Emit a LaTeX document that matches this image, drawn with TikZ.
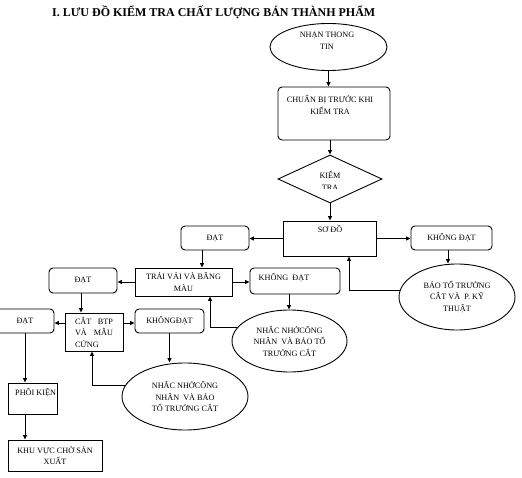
\documentclass[tikz,border=0pt]{standalone}
\usepackage{fontspec}
\setmainfont{Liberation Serif}
\usetikzlibrary{shapes.geometric,arrows.meta}
\begin{document}
\begin{tikzpicture}[x=1pt,y=-1pt,
  every node/.style={font=\fontsize{8.2}{11.5}\selectfont, inner sep=0pt, align=center},
  rbox/.style={draw, line width=0.9pt, rounded corners=4pt},
  sbox/.style={draw, line width=0.9pt},
  ell/.style={draw, ellipse, line width=0.9pt},
  dia/.style={draw, diamond, line width=0.9pt},
  arr/.style={line width=0.9pt, -{Triangle[length=4.5pt,width=4pt]}},
  ln/.style={line width=0.9pt}]
\useasboundingbox (0,0) rectangle (522,478);
\node[anchor=west, font=\fontsize{12}{14}\selectfont\bfseries] (title) at (52,12) {I. LƯU ĐỒ KIỂM TRA CHẤT LƯỢNG BÁN THÀNH PHẨM};
% shapes
\node[ell, minimum width=117pt, minimum height=47pt] (nhan) at (328.5,47) {};
\node (tnhan) at (327,41) {NHẠN THONG\\TIN};
\node[rbox, minimum width=112pt, minimum height=53pt] (chuan) at (334,113.5) {};
\node (tchuan) at (330,105) {CHUẨN BỊ TRƯỚC KHI\\KIỂM TRA};
\node[dia, minimum width=104pt, minimum height=48pt] (kt) at (330,179) {};
\node (tkt) at (330,175) {KIỂM};
\begin{scope}
\clip (300,182.5) rectangle (360,188.5);
\node (tkt2) at (330,188) {TRA};
\end{scope}
\node[sbox, minimum width=93pt, minimum height=35pt] (sodo) at (329.5,238.5) {};
\node (tsodo) at (330,229) {SƠ ĐỒ};
\node[rbox, minimum width=68pt, minimum height=24pt] (dat1) at (215,238) {ĐẠT};
\node[rbox, minimum width=81pt, minimum height=24pt] (kd1) at (451.5,238) {KHÔNG ĐẠT};
\node[ell, minimum width=116pt, minimum height=66pt] (bao) at (457,297) {BÁO TỔ TRƯỞNG\\CẮT VÀ\ \ P. KỸ\\THUẬT};
\node[sbox, minimum width=97pt, minimum height=28pt] (trai) at (183.5,282) {TRẢI VẢI VÀ BĂNG\\MÀU};
\node[rbox, minimum width=68pt, minimum height=25pt] (dat2) at (83,280.5) {ĐẠT};
\node[rbox, minimum width=90pt, minimum height=26pt] (kd2) at (295,281) {};
\node (tkd2) at (284,278) {KHÔNG\ \ ĐẠT};
\node[ell, minimum width=115pt, minimum height=62pt] (nn2) at (289.5,341) {NHẮC NHỞCÔNG\\NHÂN\ \ VÀ BÁO TỔ\\TRƯỞNG CẮT};
\node[sbox, minimum width=58pt, minimum height=38pt, align=left] (cat) at (94,332) {\makebox[38pt][l]{CẮT\hfill BTP}\\\makebox[38pt][l]{VÀ\hfill MẪU}\\CỨNG};
\node[rbox, minimum width=58pt, minimum height=24pt] (dat3) at (25,321) {ĐẠT};
\node[rbox, minimum width=69pt, minimum height=24pt] (kd3) at (169.5,321) {KHÔNGĐẠT};
\node[ell, minimum width=126pt, minimum height=67pt] (nn3) at (185,396.5) {NHẮC NHỞCÔNG\\NHÂN\ \ VÀ BÁO\\TỔ TRƯỞNG CẮT};
\node[sbox, minimum width=49pt, minimum height=31pt] (phoi) at (32.5,398.5) {};
\node[anchor=west] (tphoi) at (15,393) {PHÔI KIỆN};
\node[sbox, minimum width=94pt, minimum height=31pt] (khu) at (55,455.5) {KHU VỰC CHỜ SẢN\\XUẤT};
% connectors
\draw[arr] (nhan.south) -- (nhan.south |- chuan.north);
\draw[arr] ([xshift=-4pt]chuan.south) -- (kt.north);
\draw[arr] (kt.south) -- (kt.south |- sodo.north);
\draw[arr] (sodo.west) -- (sodo.west -| dat1.east);
\draw[arr] (sodo.east) -- (sodo.east -| kd1.west);
\draw[arr] ([xshift=-3.5pt]kd1.south) -- ([xshift=-3.5pt]kd1.south |- bao.north);
\draw[arr] (bao.173) -| ([xshift=19.5pt]sodo.south);
\draw[arr] ([xshift=-13pt]dat1.south) -- ([xshift=-13pt]dat1.south |- trai.north);
\draw[arr] (trai.west) -- (trai.west -| dat2.east);
\draw[arr] (trai.east) -- (trai.east -| kd2.west);
\draw[arr] ([xshift=-6pt]kd2.south) -- ([xshift=-6pt]kd2.south |- nn2.north);
\draw[arr] (nn2.166) -| ([xshift=26.5pt]trai.south);
\draw[arr] ([xshift=-2pt]dat2.south) -- ([xshift=-2pt]dat2.south |- cat.north);
\draw[arr] ([yshift=9pt]cat.west) -- ([yshift=9pt]cat.west -| dat3.east);
\draw[arr] ([yshift=9pt]cat.east) -- ([yshift=9pt]cat.east -| kd3.west);
\draw[arr] (kd3.south) -- (kd3.south |- nn3.north);
\draw[arr] (nn3.170) -| ([xshift=-2pt]cat.south);
\draw[arr] (dat3.south) -- (dat3.south |- phoi.north);
\draw[arr] ([xshift=-7.5pt]phoi.south) -- ([xshift=-7.5pt]phoi.south |- khu.north);
\end{tikzpicture}
\end{document}
